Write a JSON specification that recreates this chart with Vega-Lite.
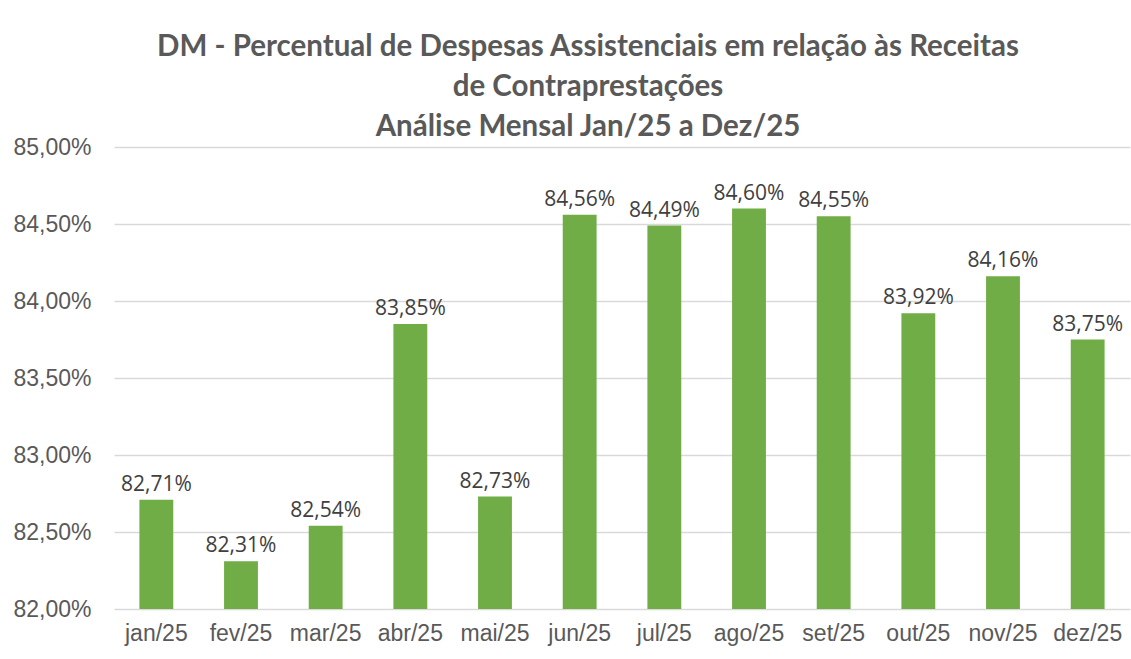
{
  "$schema": "https://vega.github.io/schema/vega-lite/v6.json",
  "width": 1016,
  "height": 462,
  "autosize": {"type": "none"},
  "padding": {"left": 114, "top": 147, "right": 1, "bottom": 50},
  "background": "white",
  "title": {
    "text": ["DM - Percentual de Despesas Assistenciais em relação às Receitas", "de Contraprestações", "Análise Mensal Jan/25 a Dez/25"],
    "font": "Lato",
    "fontWeight": "bold",
    "fontSize": 29.5,
    "color": "#595959",
    "lineHeight": 40,
    "anchor": "middle",
    "frame": "group",
    "dx": -34,
    "offset": -6
  },
  "data": {
    "values": [
      {"mes": "jan/25", "valor": 82.71},
      {"mes": "fev/25", "valor": 82.31},
      {"mes": "mar/25", "valor": 82.54},
      {"mes": "abr/25", "valor": 83.85},
      {"mes": "mai/25", "valor": 82.73},
      {"mes": "jun/25", "valor": 84.56},
      {"mes": "jul/25", "valor": 84.49},
      {"mes": "ago/25", "valor": 84.60},
      {"mes": "set/25", "valor": 84.55},
      {"mes": "out/25", "valor": 83.92},
      {"mes": "nov/25", "valor": 84.16},
      {"mes": "dez/25", "valor": 83.75}
    ]
  },
  "config": {
    "view": {"stroke": null},
    "axis": {"domain": false, "ticks": false},
    "locale": {
      "number": {"decimal": ",", "thousands": ".", "grouping": [3], "currency": ["", "%"]}
    }
  },
  "encoding": {
    "x": {
      "field": "mes",
      "type": "nominal",
      "sort": null,
      "scale": {"paddingInner": 0.6, "paddingOuter": 0.3},
      "axis": {
        "title": null,
        "labelAngle": 0,
        "labelFont": "Liberation Sans",
        "labelFontSize": 23,
        "labelColor": "#595959",
        "labelPadding": 13,
        "grid": false
      }
    },
    "y": {
      "field": "valor",
      "type": "quantitative",
      "scale": {"domain": [82, 85], "zero": false, "nice": false},
      "axis": {
        "title": null,
        "values": [82, 82.5, 83, 83.5, 84, 84.5, 85],
        "format": "$.2f",
        "labelFont": "Liberation Sans",
        "labelFontSize": 23,
        "labelColor": "#595959",
        "labelPadding": 23,
        "grid": true,
        "gridColor": "#d9d9d9",
        "gridWidth": 1.5
      }
    }
  },
  "layer": [
    {
      "mark": {"type": "bar", "color": "#70ad47"},
      "encoding": {"y2": {"datum": 82}}
    },
    {
      "mark": {"type": "text", "baseline": "alphabetic", "dy": -9, "font": "Open Sans", "fontSize": 21, "color": "#404040"},
      "encoding": {
        "text": {"field": "valor", "type": "quantitative", "format": "$.2f"}
      }
    }
  ]
}
